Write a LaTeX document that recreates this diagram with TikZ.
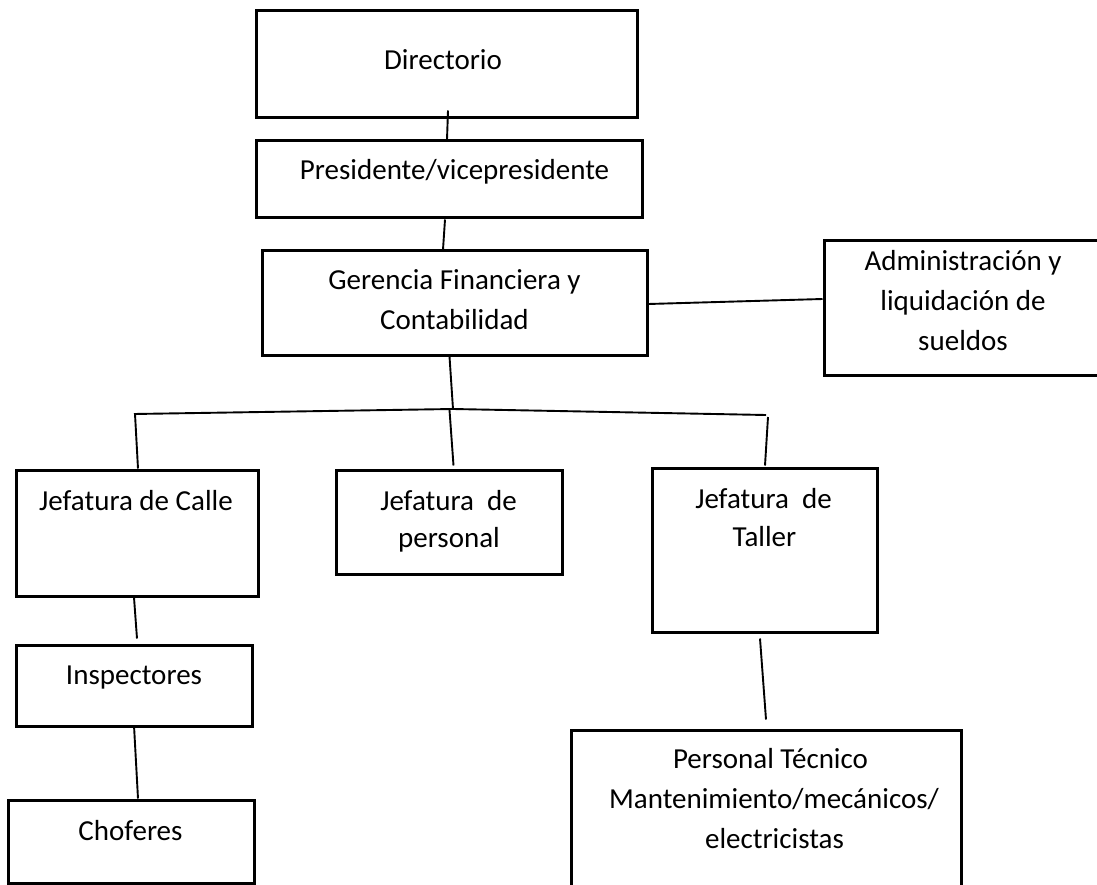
\documentclass[tikz,border=0pt]{standalone}
\usepackage{fontspec}
\setmainfont{Carlito}
\usetikzlibrary{calc}
\tikzset{
  box/.style={draw=black, line width=3pt, inner sep=0pt, rectangle},
  conn/.style={draw=black, line width=1.9pt},
  txt/.style={inner sep=0pt, anchor=base, font=\fontsize{29}{40}\selectfont}
}
\begin{document}
\begin{tikzpicture}[x=1pt,y=-1pt]
\clip (0,0) rectangle (1097,885);
\fill[white] (0,0) rectangle (1097,885);
% boxes
\node[box, minimum width=381pt, minimum height=107pt] (dir) at (446.5,64.5) {};
\node[box, minimum width=386pt, minimum height=77pt] (pres) at (449,179.5) {};
\node[box, minimum width=385pt, minimum height=104pt] (ger) at (454.5,303) {};
\node[box, minimum width=296pt, minimum height=134pt] (adm) at (972,308) {};
\node[box, minimum width=242pt, minimum height=126pt] (calle) at (137,533) {};
\node[box, minimum width=226pt, minimum height=104pt] (pers) at (449,522) {};
\node[box, minimum width=225pt, minimum height=164pt] (taller) at (764.5,550) {};
\node[box, minimum width=236pt, minimum height=81pt] (insp) at (134,685.5) {};
\node[box, minimum width=246pt, minimum height=83pt] (chof) at (131,841.5) {};
\node[box, minimum width=390pt, minimum height=180pt] (pt) at (766,820) {};
% texts
\node[txt] (dirT) at (443,70) {Directorio};
\node[txt] (presT) at (454.5,180) {Presidente/vicepresidente};
\node[txt] (gerT1) at (454.5,290) {Gerencia Financiera y};
\node[txt] (gerT2) at (454.5,329) {Contabilidad};
\node[txt] (admT1) at (963,270) {Administración y};
\node[txt] (admT2) at (963,310) {liquidación de};
\node[txt] (admT3) at (963,350) {sueldos};
\node[txt] (calleT) at (136,510) {Jefatura de Calle};
\node[txt] (persT1) at (448.5,510) {Jefatura\ \ de};
\node[txt] (persT2) at (449,547) {personal};
\node[txt] (tallerT1) at (763.5,508) {Jefatura\ \ de};
\node[txt] (tallerT2) at (764.5,546) {Taller};
\node[txt] (inspT) at (134,684) {Inspectores};
\node[txt] (chofT) at (130.5,840) {Choferes};
\node[txt] (ptT1) at (770.5,768) {Personal Técnico};
\node[txt] (ptT2) at (774,808) {Mantenimiento/mecánicos/};
\node[txt] (ptT3) at (774.5,848) {electricistas};
% bus coordinates
\coordinate (busL) at (134,414);
\coordinate (busM) at (453,409);
\coordinate (busR) at (766,415);
\coordinate (dropL) at (135,414);
\coordinate (dropM) at (449.5,410);
\coordinate (dropR) at (768,417);
% connectors
\draw[conn] ([xshift=1.5pt,yshift=9pt]dir.south) -- ([xshift=-2pt]pres.north);
\draw[conn] ([xshift=-4pt]pres.south) -- ([xshift=-11.5pt]ger.north);
\draw[conn] ([yshift=-1pt]ger.east) -- ([yshift=9pt]adm.west);
\draw[conn] ([xshift=-5pt]ger.south) -- (busM);
\draw[conn] (busL) -- (busM) -- (busR);
\draw[conn] (dropL) -- ([xshift=1pt]calle.north);
\draw[conn] (dropM) -- ([xshift=4.5pt,yshift=3pt]pers.north);
\draw[conn] (dropR) -- ([xshift=0.5pt,yshift=1pt]taller.north);
\draw[conn] ([xshift=-3pt]calle.south) -- ([xshift=3pt,yshift=5pt]insp.north);
\draw[conn] ([yshift=2pt]insp.south) -- ([xshift=7pt]chof.north);
\draw[conn] ([xshift=-4.5pt,yshift=-5pt]taller.south) -- ([yshift=9pt]pt.north);
\end{tikzpicture}
\end{document}
